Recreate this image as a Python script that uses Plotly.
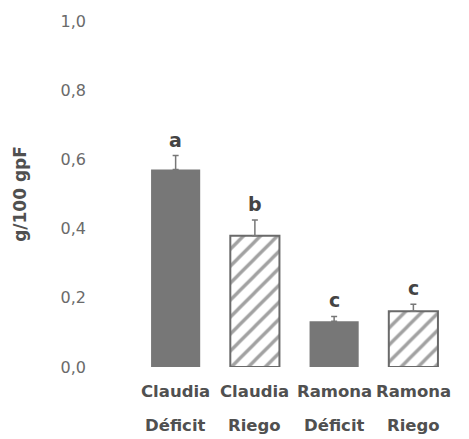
import plotly.graph_objects as go

categories = ["Claudia Déficit", "Claudia Riego", "Ramona Déficit", "Ramona Riego"]
variety = ["Claudia", "Claudia", "Ramona", "Ramona"]
treatment = ["Déficit", "Riego", "Déficit", "Riego"]
values = [0.571, 0.379, 0.132, 0.161]
errors = [0.040, 0.046, 0.014, 0.020]
letters = ["a", "b", "c", "c"]
hatched = [False, True, False, True]
y_ticks = [0.0, 0.2, 0.4, 0.6, 0.8, 1.0]
y_ticktext = ["0,0", "0,2", "0,4", "0,6", "0,8", "1,0"]

GRAY = "#777777"
HATCH = "#6a6a6a"
TEXT = "#505050"
TICK = "#6a6a6a"
FONT = "DejaVu Sans"

fig = go.Figure()
fig.add_trace(go.Bar(
    x=categories,
    y=values,
    width=0.62,
    marker=dict(
        color=[("white" if h else GRAY) for h in hatched],
        line=dict(color=HATCH, width=[2 if h else 0 for h in hatched]),
        pattern=dict(
            shape=[("/" if h else "") for h in hatched],
            fgcolor=HATCH,
            bgcolor="white",
            size=12,
            solidity=0.28,
        ),
    ),
    error_y=dict(
        type="data", symmetric=False, array=errors,
        arrayminus=[0] * len(errors), color=GRAY, thickness=1.5, width=3,
    ),
    showlegend=False,
))

for c, v, e, l in zip(categories, values, errors, letters):
    fig.add_annotation(x=c, y=v + e, text=l, showarrow=False, yanchor="bottom",
                       yshift=3, font=dict(family=FONT, size=19, color="#444444", weight="bold"))

for c, a, b in zip(categories, variety, treatment):
    fig.add_annotation(x=c, y=0, yref="paper", text=a, showarrow=False, yanchor="middle",
                       yshift=-24, font=dict(family=FONT, size=16.5, color=TEXT, weight="bold"))
    fig.add_annotation(x=c, y=0, yref="paper", text=b, showarrow=False, yanchor="middle",
                       yshift=-58, font=dict(family=FONT, size=16.5, color=TEXT, weight="bold"))

fig.update_layout(
    width=469, height=439,
    margin=dict(l=136, r=16, t=19, b=72),
    paper_bgcolor="white", plot_bgcolor="white",
    bargap=0.38,
    font=dict(family=FONT, color=TEXT),
)
fig.update_xaxes(showticklabels=False, showline=False, showgrid=False, zeroline=False,
                 range=[-0.5, 3.5])
fig.update_yaxes(range=[0, 1.0], tickvals=y_ticks, ticktext=y_ticktext,
                 showline=False, showgrid=False, zeroline=False,
                 tickfont=dict(family=FONT, size=16, color=TICK),
                 ticklabelstandoff=49,
                 title=dict(text="g/100 gpF", standoff=29,
                            font=dict(family=FONT, size=17, color=TEXT, weight="bold")))

fig.write_html("out.html", config={"displayModeBar": False},
               post_script="document.body.style.margin='0px';")
